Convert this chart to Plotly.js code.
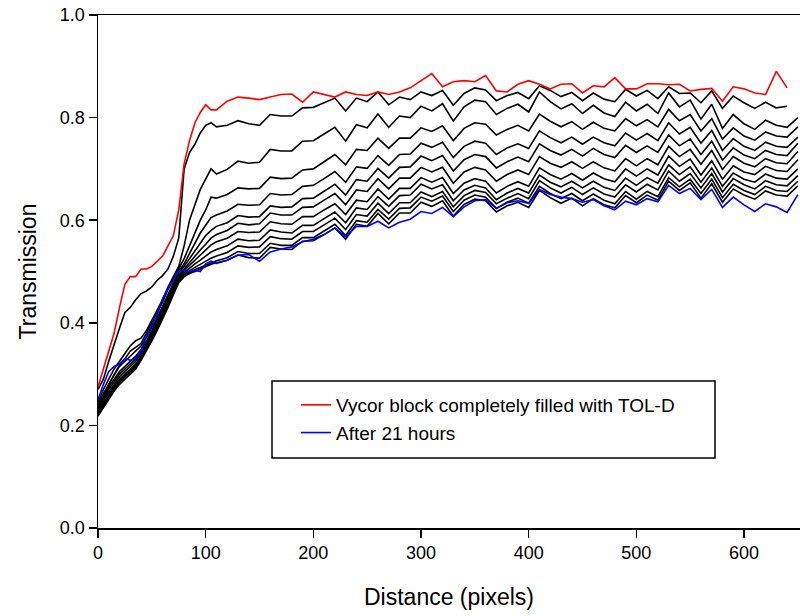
<!DOCTYPE html>
<html>
<head>
<meta charset="utf-8">
<script src="https://cdn.plot.ly/plotly-3.0.1.min.js"></script>
<style>html,body{margin:0;padding:0;background:#fff;}#chart{width:800px;height:616px;}</style>
</head>
<body>
<div id="chart"></div>
<script>
// Distance (pixels)
const distance = [0,5,10,15,20,25,30,35,40,45,50,55,60,65,70,75,80,85,90,95,100,105,110,
  120,130,140,150,160,170,180,190,200,210,220,230,240,250,260,270,280,290,300,310,320,330,340,350,
  360,370,380,390,400,410,420,430,440,450,460,470,480,490,500,510,520,530,540,550,560,570,580,590,
  600,610,620,630,640,650];

// Red: Vycor block completely filled with TOL-D
const filled = [.275,.31,.34,.38,.43,.475,.49,.49,.505,.505,.51,.52,.53,.55,.57,.62,.71,.755,.79,.81,.825,.815,.815,
  .832,.84,.838,.835,.84,.845,.846,.83,.85,.845,.84,.85,.845,.843,.85,.845,.85,.858,.872,.886,.86,.87,.872,.87,
  .882,.852,.85,.865,.872,.865,.856,.865,.866,.848,.862,.86,.878,.856,.856,.866,.866,.864,.865,.852,.855,.857,.832,.86,
  .856,.848,.845,.89,.858];

// Blue: After 21 hours
const after21h = [.25,.28,.305,.315,.32,.33,.327,.33,.345,.375,.395,.415,.447,.465,.485,.502,.503,.5,.502,.5,.515,.52,.516,
  .522,.532,.533,.52,.538,.544,.548,.558,.563,.572,.585,.568,.588,.588,.598,.585,.596,.602,.617,.613,.625,.607,.626,.638,
  .64,.623,.634,.638,.633,.66,.65,.645,.642,.635,.64,.628,.62,.637,.63,.642,.636,.668,.652,.662,.64,.66,.625,.645,
  .63,.617,.632,.626,.615,.65];

// Intermediate times (black curves)
const t01 = [.27,.29,.325,.36,.39,.42,.43,.445,.457,.462,.47,.483,.492,.505,.53,.565,.70,.732,.748,.77,.785,.79,.782,
  .785,.794,.788,.785,.806,.803,.803,.819,.82,.829,.838,.813,.838,.831,.85,.825,.84,.835,.85,.843,.853,.824,.847,.858,
  .854,.833,.843,.849,.837,.862,.853,.841,.849,.833,.848,.836,.831,.855,.842,.853,.837,.86,.847,.848,.829,.852,.818,.842,
  .829,.818,.83,.819,.822];
const t02 = [.245,.27,.29,.31,.325,.34,.355,.365,.37,.385,.405,.425,.445,.47,.49,.51,.55,.6,.63,.66,.68,.70,.69,
  .699,.715,.711,.713,.738,.735,.735,.754,.755,.768,.781,.754,.786,.78,.807,.781,.803,.80,.822,.813,.827,.793,.821,.834,
  .831,.806,.818,.826,.811,.85,.831,.817,.827,.808,.824,.809,.802,.83,.813,.826,.808,.848,.821,.834,.797,.826,.779,.806,
  .788,.777,.795,.785,.781,.80];
const t03 = [.24,.262,.28,.30,.318,.33,.345,.352,.36,.38,.40,.42,.44,.465,.485,.505,.525,.55,.575,.60,.62,.645,.643,
  .65,.663,.661,.662,.684,.681,.682,.698,.70,.714,.728,.708,.738,.736,.76,.74,.76,.76,.78,.773,.784,.755,.779,.79,
  .787,.766,.777,.785,.774,.807,.793,.782,.792,.777,.791,.779,.774,.798,.784,.796,.782,.816,.794,.806,.774,.798,.758,.78,
  .764,.756,.772,.764,.762,.782];
const t04 = [.235,.258,.28,.298,.315,.325,.335,.345,.355,.372,.39,.41,.432,.455,.478,.5,.515,.535,.555,.575,.59,.605,.61,
  .618,.631,.629,.63,.652,.649,.65,.666,.668,.681,.695,.674,.704,.701,.726,.707,.728,.729,.75,.742,.752,.722,.744,.754,
  .75,.728,.741,.749,.74,.774,.761,.751,.762,.748,.762,.751,.745,.77,.756,.769,.755,.79,.768,.781,.75,.775,.736,.759,
  .744,.736,.752,.744,.742,.762];
const t05 = [.232,.255,.275,.29,.305,.315,.325,.335,.348,.365,.385,.405,.428,.45,.475,.498,.51,.525,.54,.555,.57,.58,.588,
  .595,.609,.606,.607,.628,.625,.626,.642,.643,.656,.67,.649,.679,.676,.701,.682,.703,.704,.725,.716,.726,.696,.718,.728,
  .724,.702,.714,.723,.714,.749,.736,.727,.738,.725,.74,.728,.722,.746,.732,.745,.732,.766,.745,.758,.728,.754,.717,.741,
  .727,.72,.736,.728,.726,.75];
const t06 = [.23,.25,.27,.285,.30,.31,.32,.33,.343,.36,.38,.40,.422,.445,.47,.493,.505,.518,.53,.542,.553,.565,.572,
  .58,.594,.591,.593,.614,.61,.61,.625,.626,.639,.652,.63,.659,.656,.681,.661,.682,.682,.703,.694,.703,.672,.694,.703,
  .698,.676,.689,.698,.689,.724,.711,.703,.714,.701,.714,.702,.696,.72,.706,.72,.708,.744,.724,.738,.709,.736,.699,.724,
  .711,.704,.72,.712,.71,.734];
const t07 = [.228,.245,.265,.28,.295,.305,.315,.325,.34,.357,.377,.397,.42,.443,.467,.49,.502,.512,.522,.532,.542,.552,.558,
  .565,.578,.576,.577,.597,.593,.592,.607,.607,.62,.632,.611,.639,.636,.661,.641,.662,.662,.683,.674,.683,.652,.672,.681,
  .676,.653,.666,.675,.666,.702,.689,.68,.691,.678,.692,.681,.675,.70,.686,.70,.688,.725,.705,.719,.688,.716,.68,.706,
  .694,.689,.705,.697,.695,.718];
const t08 = [.225,.242,.262,.277,.29,.30,.31,.32,.335,.352,.372,.393,.416,.44,.464,.487,.498,.507,.515,.522,.53,.538,.543,
  .55,.563,.56,.561,.581,.577,.575,.59,.59,.603,.616,.595,.624,.621,.646,.627,.648,.649,.67,.661,.669,.638,.659,.668,
  .663,.64,.653,.662,.653,.688,.674,.665,.676,.663,.676,.664,.658,.682,.668,.683,.672,.708,.689,.704,.674,.702,.666,.692,
  .68,.674,.69,.682,.68,.70];
const t09 = [.222,.24,.258,.273,.287,.297,.307,.317,.332,.35,.37,.39,.413,.437,.461,.484,.495,.502,.508,.514,.52,.526,.53,
  .537,.55,.547,.548,.568,.564,.563,.578,.578,.591,.604,.582,.611,.608,.633,.613,.634,.634,.655,.646,.656,.626,.648,.658,
  .654,.632,.643,.652,.642,.677,.663,.653,.664,.65,.663,.651,.645,.669,.655,.67,.659,.696,.676,.691,.663,.691,.655,.681,
  .669,.661,.677,.669,.667,.687];
const t10 = [.22,.238,.255,.27,.284,.294,.304,.314,.33,.348,.368,.388,.41,.434,.458,.481,.493,.499,.504,.508,.512,.517,.521,
  .527,.539,.535,.535,.555,.551,.551,.566,.566,.579,.592,.57,.599,.596,.621,.602,.623,.624,.645,.637,.647,.617,.639,.649,
  .645,.623,.635,.643,.633,.666,.652,.642,.652,.638,.651,.639,.632,.656,.641,.656,.646,.683,.665,.68,.652,.68,.644,.67,
  .658,.65,.666,.658,.656,.676];
const t11 = [.218,.235,.252,.267,.28,.29,.30,.31,.327,.345,.365,.385,.407,.43,.455,.478,.49,.496,.50,.505,.509,.514,.517,
  .522,.532,.527,.526,.547,.544,.543,.559,.56,.572,.585,.563,.592,.588,.613,.593,.614,.614,.635,.627,.638,.608,.631,.641,
  .638,.616,.628,.635,.625,.658,.644,.633,.643,.628,.642,.63,.624,.648,.634,.649,.639,.676,.658,.673,.643,.671,.635,.661,
  .649,.641,.657,.649,.647,.667];

const intermediate = [t01,t02,t03,t04,t05,t06,t07,t08,t09,t10,t11];

const redName = 'Vycor block completely filled with TOL-D';
const blueName = 'After 21 hours';
const xTicks = [0,100,200,300,400,500,600];
const yTicks = [0,0.2,0.4,0.6,0.8,1.0];
const yTickText = ['0.0','0.2','0.4','0.6','0.8','1.0'];

const traces = [];
intermediate.forEach((ys, i) => {
  traces.push({x: distance, y: ys, type: 'scatter', mode: 'lines',
    line: {color: '#000', width: 1.6}, showlegend: false, hoverinfo: 'skip', name: 't' + (i + 1)});
});
traces.push({x: distance, y: filled, type: 'scatter', mode: 'lines', name: redName,
  line: {color: '#ff0000', width: 1.6}});
traces.push({x: distance, y: after21h, type: 'scatter', mode: 'lines', name: blueName,
  line: {color: '#0000ff', width: 1.6}});

const FONT = '"Liberation Sans", Arial, sans-serif';

const layout = {
  width: 800, height: 616,
  margin: {l: 98, r: 0, t: 15, b: 88, pad: 0},
  paper_bgcolor: '#ffffff', plot_bgcolor: '#ffffff',
  font: {family: FONT, color: '#000', size: 18},
  showlegend: true,
  xaxis: {
    range: [0, 652], tickvals: xTicks, ticks: 'outside', ticklen: 8, tickwidth: 1.5, tickcolor: '#000',
    showline: true, linecolor: '#000', linewidth: 1.5, mirror: true,
    showgrid: false, zeroline: false, tickfont: {size: 18, family: FONT, color: '#000'},
    title: {text: 'Distance (pixels)', font: {size: 23, family: FONT, color: '#000'}, standoff: 27},
    automargin: false
  },
  yaxis: {
    range: [0, 1], tickvals: yTicks, ticktext: yTickText, ticks: 'outside', ticklen: 8, tickwidth: 1.5, tickcolor: '#000',
    showline: true, linecolor: '#000', linewidth: 1.5, mirror: false,
    showgrid: false, zeroline: false, tickfont: {size: 18, family: FONT, color: '#000'},
    title: {text: 'Transmission', font: {size: 23, family: FONT, color: '#000'}, standoff: 17},
    automargin: false
  },
  legend: {
    x: (296 - 98) / 702, y: (528 - 386) / 513, xanchor: 'left', yanchor: 'top',
    bgcolor: 'rgba(0,0,0,0)', borderwidth: 0, font: {size: 19, family: FONT, color: '#000'},
    traceorder: 'normal'
  },
  shapes: [{
    type: 'rect', xref: 'paper', yref: 'paper',
    x0: (272 - 98) / 702, x1: (715 - 98) / 702, y0: (528 - 458) / 513, y1: (528 - 381) / 513,
    line: {color: '#000', width: 1.5}, fillcolor: '#ffffff', layer: 'above'
  }]
};

Plotly.newPlot('chart', traces, layout, {displayModeBar: false, staticPlot: true});
</script>
</body>
</html>
